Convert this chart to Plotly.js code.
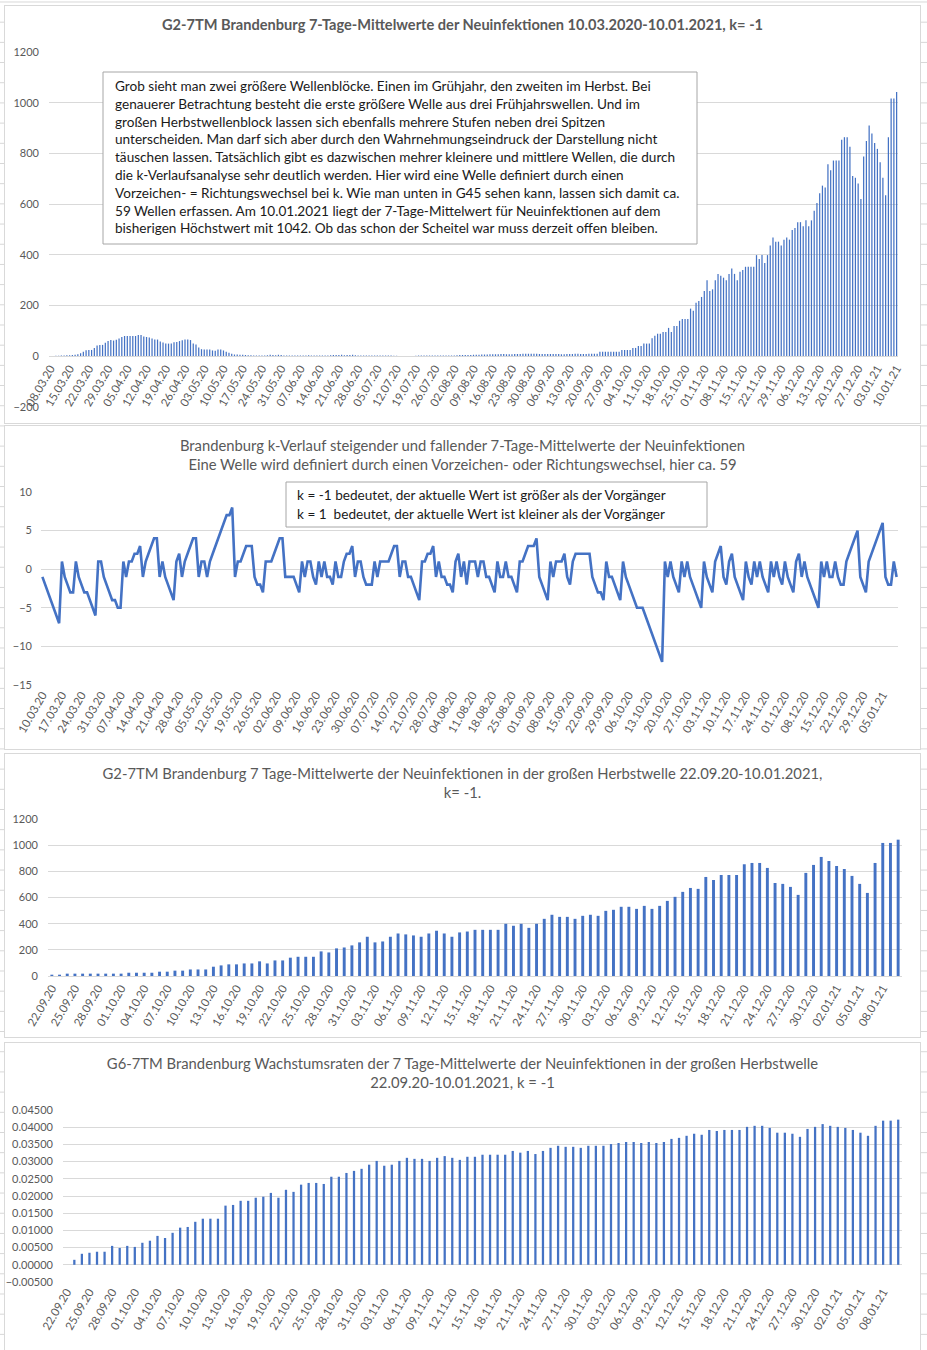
<!DOCTYPE html>
<html>
<head>
<meta charset="utf-8">
<script src="https://cdn.plot.ly/plotly-3.0.1.min.js"></script>
<style>
html,body{margin:0;padding:0;}
body{width:927px;height:1350px;position:relative;overflow:hidden;background-color:#fff;
 background-image:linear-gradient(to right,#d6d6d6 1px,transparent 1px),linear-gradient(to bottom,#d6d6d6 1px,transparent 1px);
 background-size:61px 20.2px;background-position:3px 1.5px;}
.panel{position:absolute;left:5px;width:915px;background:#fff;outline:1px solid #d9d9d9;}
</style>
</head>
<body>
<div id="p1" class="panel" style="top:6px;height:417px;"></div>
<div id="p2" class="panel" style="top:426px;height:323px;"></div>
<div id="p3" class="panel" style="top:754px;height:283px;"></div>
<div id="p4" class="panel" style="top:1043px;height:307px;"></div>
<script>
// ---------- DATA ----------
// Panel 1: daily 7-day mean of new infections, 08.03.2020 .. 10.01.2021 (309 days)
const p1Start = [2020, 3, 8];
const p1SpringSummer = [
  1,1,2,2,3,3,4,
  4,5,6,8,12,18,24,
  25,25,33,43,45,45,53,
  60,64,62,65,70,76,80,
  80,80,80,80,84,84,78,
  76,74,70,66,66,58,54,
  50,50,50,55,56,60,63,
  66,66,64,50,46,35,28,
  27,27,27,23,22,27,27,
  23,18,14,10,7,7,6,
  6,5,4,4,3,3,3,
  3,3,4,6,5,4,6,
  5,3,3,3,3,3,3,
  3,3,3,4,3,3,3,
  3,3,3,3,4,5,5,
  5,6,4,5,5,6,4,
  3,3,3,3,3,3,3,
  3,3,3,3,3,3,2,
  2,1,1,1,1,0,1,
  2,3,3,3,3,3,3,
  3,3,3,3,3,3,3,
  3,4,5,5,5,5,5,
  6,6,6,7,7,7,8,
  8,8,8,9,9,8,8,
  8,9,9,9,10,10,10,
  10,10,10,9,9,9,9,
  9,9,9,9,8,8,9,
  9,9,10,10,9,9,9,10,10
];
// Panel 3 (and tail of panel 1): 22.09.2020 .. 10.01.2021 (111 days)
const autumnStart = [2020, 9, 22];
const autumnValues = [
  10,10,18,18,18,18,18,18,18,18,
  25,25,25,25,33,33,41,41,50,50,
  50,71,81,89,89,96,96,112,96,119,
  119,140,147,147,147,188,180,211,218,234,
  257,300,257,264,300,325,318,310,300,325,
  346,325,300,333,340,353,353,353,353,399,
  384,399,368,399,437,468,452,452,437,460,
  468,460,498,506,529,529,513,536,513,536,
  574,605,643,673,666,757,734,772,772,772,
  854,864,864,826,711,704,681,620,788,849,
  910,879,841,818,765,704,635,864,1017,1017,1042
];
// Panel 2: k-course, 10.03.2020 .. 10.01.2021 (307 days)
const kStart = [2020, 3, 10];
const kValues = [
  -1,-2,-3,-4,-5,-6,-7,1,-1,-2,
  -3,-3,1,-1,-2,-3,-3,-4,-5,-6,
  1,1,-1,-2,-3,-4,-4,-5,-5,1,
  -1,1,1,2,2,3,-1,1,2,3,
  4,4,-1,1,-1,-2,-3,-4,1,2,
  -1,1,2,3,4,4,-1,1,1,-1,
  1,2,3,4,5,6,7,7,8,-1,
  1,1,2,3,3,3,-1,-2,-2,-3,
  1,1,1,2,3,4,4,-1,-1,-1,
  -1,-2,-3,1,-1,1,1,-1,-2,1,
  -1,1,-1,-1,-2,1,-1,-1,1,2,
  2,3,-1,1,1,-1,-2,-2,-2,1,
  -1,1,1,1,1,2,3,3,-1,1,
  1,-1,-1,-2,-3,-4,1,1,2,2,
  3,-1,1,-1,-1,-2,-2,-3,1,2,
  -1,1,-2,1,1,1,-1,1,1,-1,
  -1,-2,-3,1,-1,-1,1,-1,-1,-2,
  -3,1,1,2,3,3,3,4,-1,-2,
  -3,-4,1,-1,1,1,1,2,-1,-2,
  1,2,2,2,2,2,2,-1,-2,-3,
  -3,-4,1,-1,-1,-2,-3,-4,1,-1,
  -2,-3,-4,-5,-5,-5,-6,-7,-8,-9,
  -10,-11,-12,1,-1,1,-1,-2,-3,1,
  -1,1,-1,-2,-3,-4,-5,1,-1,-2,
  -3,1,2,3,-1,-2,1,2,-1,-2,
  -3,-4,1,-1,-2,1,-1,1,-1,-2,
  -3,1,-1,1,-1,-2,1,-1,-2,-3,
  1,2,-1,1,-1,-2,-3,-4,-5,1,
  -1,1,-1,-1,1,-1,-2,-2,1,2,
  3,4,5,-1,-2,-3,1,2,3,4,
  5,6,-1,-2,-2,1,-1
];
// Panel 4: growth rates 22.09.2020 .. 10.01.2021
const growthRates = [
  null,0.00145,0.0032,0.0035,0.0038,0.0038,0.0055,0.0049,0.0055,0.0052,
  0.0064,0.0070,0.0084,0.0078,0.0093,0.0108,0.0110,0.0125,0.0134,0.0134,
  0.0134,0.0172,0.0174,0.0186,0.0186,0.0195,0.0198,0.0209,0.0195,0.0218,
  0.0212,0.0233,0.0238,0.0238,0.0235,0.0256,0.0256,0.0267,0.0273,0.0279,
  0.0291,0.0302,0.0288,0.0291,0.0302,0.0311,0.0308,0.0308,0.0302,0.0311,
  0.0316,0.0311,0.0305,0.0314,0.0314,0.0320,0.0320,0.0320,0.0320,0.0331,
  0.0326,0.0331,0.0322,0.0331,0.0340,0.0346,0.0343,0.0343,0.0340,0.0346,
  0.0346,0.0346,0.0351,0.0354,0.0357,0.0357,0.0354,0.0357,0.0354,0.0357,
  0.0366,0.0369,0.0375,0.0381,0.0378,0.0392,0.0389,0.0392,0.0392,0.0392,
  0.0401,0.0404,0.0404,0.0398,0.0384,0.0384,0.0381,0.0372,0.0395,0.0401,
  0.0409,0.0404,0.0401,0.0398,0.0392,0.0384,0.0375,0.0404,0.0419,0.0419,0.0422
];

const titles = {
  p1: 'G2-7TM Brandenburg 7-Tage-Mittelwerte der Neuinfektionen 10.03.2020-10.01.2021, k= -1',
  p2: 'Brandenburg k-Verlauf steigender und fallender 7-Tage-Mittelwerte der Neuinfektionen<br>Eine Welle wird definiert durch einen Vorzeichen- oder Richtungswechsel, hier ca. 59',
  p3: 'G2-7TM Brandenburg 7 Tage-Mittelwerte der Neuinfektionen in der großen Herbstwelle 22.09.20-10.01.2021,<br>k= -1.',
  p4: 'G6-7TM Brandenburg Wachstumsraten der 7 Tage-Mittelwerte der Neuinfektionen in der großen Herbstwelle<br>22.09.20-10.01.2021, k = -1'
};
const note1Lines = [
  'Grob sieht man zwei größere Wellenblöcke. Einen im Grühjahr, den zweiten im Herbst. Bei',
  'genauerer Betrachtung besteht die erste größere Welle aus drei Frühjahrswellen. Und im',
  'großen Herbstwellenblock lassen sich ebenfalls mehrere Stufen neben drei Spitzen',
  'unterscheiden. Man darf sich aber durch den Wahrnehmungseindruck der Darstellung nicht',
  'täuschen lassen. Tatsächlich gibt es dazwischen mehrer kleinere und mittlere Wellen, die durch',
  'die k-Verlaufsanalyse sehr deutlich werden. Hier wird eine Welle definiert durch einen',
  'Vorzeichen- = Richtungswechsel bei k. Wie man unten in G45 sehen kann, lassen sich damit ca.',
  '59 Wellen erfassen. Am 10.01.2021 liegt der 7-Tage-Mittelwert für Neuinfektionen auf dem',
  'bisherigen Höchstwert mit 1042. Ob das schon der Scheitel war muss derzeit offen bleiben.'
];
const note2Lines = [
  'k = -1 bedeutet, der aktuelle Wert ist größer als der Vorgänger',
  'k = 1  bedeutet, der aktuelle Wert ist kleiner als der Vorgänger'
];

// ---------- helpers ----------
function makeDates(start, n){
  const out=[];
  for(let i=0;i<n;i++){
    const dt=new Date(Date.UTC(start[0],start[1]-1,start[2]+i));
    out.push(String(dt.getUTCDate()).padStart(2,'0')+'.'+String(dt.getUTCMonth()+1).padStart(2,'0')+'.'+String(dt.getUTCFullYear()).slice(2));
  }
  return out;
}
function everyNth(arr, n){ return arr.filter((_,i)=>i%n===0); }

const p1Values = p1SpringSummer.concat(autumnValues);
const p1Dates = makeDates(p1Start, p1Values.length);
const kDates = makeDates(kStart, kValues.length);
const autumnDates = makeDates(autumnStart, autumnValues.length);
const p1TickLabels = everyNth(p1Dates, 7);
const kTickLabels = everyNth(kDates, 7);
const autumnTickLabels = everyNth(autumnDates, 3);

const FONT = 'Lato, "Open Sans", sans-serif';
const GRAY = '#595959';
const GRID = '#d9d9d9';
const BLUE = '#4472C4';
const XTICKFONT = {family: FONT, size: 11.5, color: GRAY};
const YTICKFONT = {family: FONT, size: 11, color: GRAY};
const TITLEFONT = {family: FONT, size: 14.8, color: GRAY};
const XANGLE = -60;
const config = {staticPlot: true, displayModeBar: false};

function fx(px, L){ return (px - L.margin.l) / (L.width - L.margin.l - L.margin.r); }
function fy(py, L){ return 1 - (py - L.margin.t) / (L.height - L.margin.t - L.margin.b); }

function noteBox(L, x0, y0, x1, y1, lines, tx, ty0, dy){
  const shapes=[{type:'rect', xref:'paper', yref:'paper', x0:fx(x0,L), x1:fx(x1,L), y0:fy(y1,L), y1:fy(y0,L),
    fillcolor:'#ffffff', line:{color:'#a6a6a6', width:1}, layer:'above'}];
  const ann = lines.map((t,i)=>({xref:'paper', yref:'paper', x:fx(tx,L), y:fy(ty0+i*dy,L), xanchor:'left', yanchor:'middle',
    text:t, showarrow:false, align:'left', font:{family:FONT, size:13.6, color:'#1a1a1a'}}));
  return {shapes, ann};
}

// ---------- Panel 1 ----------
(function(){
  const L = {
    width:915, height:417, margin:{l:44, r:22, t:46, b:16},
    paper_bgcolor:'#fff', plot_bgcolor:'#fff', showlegend:false, bargap:0.55,
    title:{text:'<b>'+titles.p1+'</b>', font:{family:FONT, size:14.6, color:GRAY}, x:0.5, xref:'container', xanchor:'center', y:1-19/417, yref:'container', yanchor:'middle'},
    xaxis:{type:'category', tickmode:'array', tickvals:p1TickLabels, ticktext:p1TickLabels, tickangle:XANGLE, anchor:'free', position:200/1400,
      showgrid:false, showline:true, linecolor:GRID, linewidth:1, ticks:'', tickfont:XTICKFONT, range:[-0.5, p1Values.length-0.5], automargin:false},
    yaxis:{range:[-200,1200], tick0:0, dtick:200, gridcolor:GRID, gridwidth:1, zeroline:false, showline:false, ticks:'', tickfont:YTICKFONT, ticklabelstandoff:9, automargin:false}
  };
  const nb = noteBox(L, 98, 66, 692, 238, note1Lines, 108, 80, 17.8);
  L.shapes = nb.shapes; L.annotations = nb.ann;
  Plotly.newPlot('p1', [{type:'bar', x:p1Dates, y:p1Values, marker:{color:BLUE}}], L, config);
})();

// ---------- Panel 2 ----------
(function(){
  const L = {
    width:915, height:323, margin:{l:36, r:22, t:66, b:64},
    paper_bgcolor:'#fff', plot_bgcolor:'#fff', showlegend:false,
    title:{text:titles.p2, font:TITLEFONT, x:0.5, xref:'container', xanchor:'center', y:1-25/323, yref:'container', yanchor:'middle'},
    xaxis:{type:'category', tickmode:'array', tickvals:kTickLabels, ticktext:kTickLabels, tickangle:XANGLE,
      showgrid:false, showline:false, ticks:'', tickfont:XTICKFONT, range:[-0.5, kValues.length-0.5], automargin:false},
    yaxis:{range:[-15,10], tick0:0, dtick:5, gridcolor:GRID, gridwidth:1, zeroline:true, zerolinecolor:GRID, zerolinewidth:1, showline:false, ticks:'', tickfont:YTICKFONT, ticklabelstandoff:8, automargin:false}
  };
  const nb = noteBox(L, 281, 56, 702, 101, note2Lines, 290, 69, 19);
  L.shapes = nb.shapes; L.annotations = nb.ann;
  Plotly.newPlot('p2', [{type:'scatter', mode:'lines', x:kDates, y:kValues, line:{color:BLUE, width:2.6}}], L, config);
})();

// ---------- Panel 3 ----------
(function(){
  const L = {
    width:915, height:283, margin:{l:43, r:18, t:65, b:61},
    paper_bgcolor:'#fff', plot_bgcolor:'#fff', showlegend:false, bargap:0.62,
    title:{text:titles.p3, font:TITLEFONT, x:0.5, xref:'container', xanchor:'center', y:1-25/283, yref:'container', yanchor:'middle'},
    xaxis:{type:'category', tickmode:'array', tickvals:autumnTickLabels, ticktext:autumnTickLabels, tickangle:XANGLE,
      showgrid:false, showline:true, linecolor:GRID, ticks:'', tickfont:XTICKFONT, range:[-0.5, autumnValues.length-0.5], automargin:false},
    yaxis:{range:[0,1200], tick0:0, dtick:200, gridcolor:GRID, gridwidth:1, zeroline:false, showline:false, ticks:'', tickfont:YTICKFONT, ticklabelstandoff:9, automargin:false}
  };
  Plotly.newPlot('p3', [{type:'bar', x:autumnDates, y:autumnValues, marker:{color:BLUE}}], L, config);
})();

// ---------- Panel 4 ----------
(function(){
  const L = {
    width:915, height:307, margin:{l:58, r:18, t:67, b:68},
    paper_bgcolor:'#fff', plot_bgcolor:'#fff', showlegend:false, bargap:0.7,
    title:{text:titles.p4, font:TITLEFONT, x:0.5, xref:'container', xanchor:'center', y:1-26/307, yref:'container', yanchor:'middle'},
    xaxis:{type:'category', tickmode:'array', tickvals:autumnTickLabels, ticktext:autumnTickLabels, tickangle:XANGLE,
      showgrid:false, showline:false, ticks:'', tickfont:XTICKFONT, range:[-0.5, growthRates.length-0.5], automargin:false},
    yaxis:{range:[-0.005,0.045], tick0:0, dtick:0.005, tickformat:'.5f', gridcolor:GRID, gridwidth:1, zeroline:true, zerolinecolor:GRID, zerolinewidth:1, showline:false, ticks:'', tickfont:YTICKFONT, ticklabelstandoff:9, automargin:false}
  };
  Plotly.newPlot('p4', [{type:'bar', x:autumnDates, y:growthRates, marker:{color:BLUE}}], L, config);
})();
</script>
</body>
</html>
